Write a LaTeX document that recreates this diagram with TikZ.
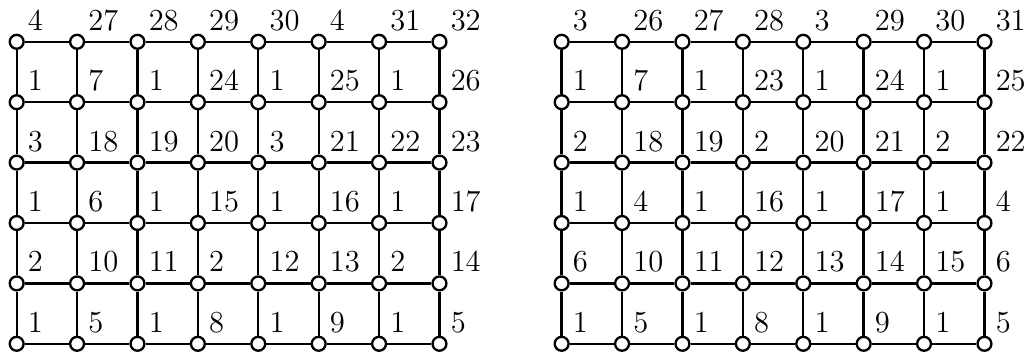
\documentclass[tikz,border=0pt]{standalone}
\begin{document}
\begin{tikzpicture}[
    vtx/.style={circle, draw, fill=white, line width=1.1pt, minimum size=0.23cm, inner sep=0pt},
    link/.style={line width=1.1pt},
    num/.style={anchor=base west, inner sep=0pt, font=\Large}]
    \useasboundingbox (-0.276,-0.169) rectangle (16.744,5.692);

    % Left board: vertices with their numbers
    \begin{scope}
        \foreach \row [count=\j from 0] in {{4,27,28,29,30,4,31,32},{1,7,1,24,1,25,1,26},{3,18,19,20,3,21,22,23},
                                          {1,6,1,15,1,16,1,17},{2,10,11,2,12,13,2,14},{1,5,1,8,1,9,1,5}} {
            \foreach \lab [count=\i from 0] in \row {
                \node[vtx] (L-\i-\j) at (\i,5-\j) {};
                \node[num] (Lnum-\i-\j) at (\i+0.18,5.19-\j) {\lab};
            }
        }
        % Edges
        \foreach \i in {0,...,7} {
            \foreach \j in {1,...,5} {
                \pgfmathtruncatemacro\k{\j-1}
                \draw[link] (L-\i-\k) -- (L-\i-\j);
            }
        }
        \foreach \j in {0,...,5} {
            \foreach \i in {1,...,7} {
                \pgfmathtruncatemacro\k{\i-1}
                \draw[link] (L-\k-\j) -- (L-\i-\j);
            }
        }
    \end{scope}

    % Right board
    \begin{scope}[xshift=9.023cm]
        \foreach \row [count=\j from 0] in {{3,26,27,28,3,29,30,31},{1,7,1,23,1,24,1,25},{2,18,19,2,20,21,2,22},
                                          {1,4,1,16,1,17,1,4},{6,10,11,12,13,14,15,6},{1,5,1,8,1,9,1,5}} {
            \foreach \lab [count=\i from 0] in \row {
                \node[vtx] (R-\i-\j) at (\i,5-\j) {};
                \node[num] (Rnum-\i-\j) at (\i+0.18,5.19-\j) {\lab};
            }
        }
        % Edges
        \foreach \i in {0,...,7} {
            \foreach \j in {1,...,5} {
                \pgfmathtruncatemacro\k{\j-1}
                \draw[link] (R-\i-\k) -- (R-\i-\j);
            }
        }
        \foreach \j in {0,...,5} {
            \foreach \i in {1,...,7} {
                \pgfmathtruncatemacro\k{\i-1}
                \draw[link] (R-\k-\j) -- (R-\i-\j);
            }
        }
    \end{scope}
\end{tikzpicture}
\end{document}
